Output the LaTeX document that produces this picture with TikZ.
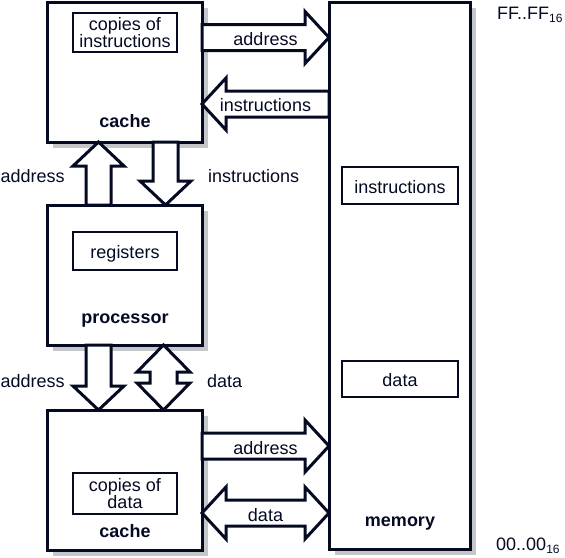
\documentclass[tikz,border=0pt]{standalone}
\usepackage{fontspec}
\setmainfont{Liberation Sans}
\usetikzlibrary{calc,shadows}
\definecolor{ink}{RGB}{5,10,35}
\definecolor{shade}{RGB}{196,198,202}
\begin{document}
\begin{tikzpicture}[x=1pt,y=-1pt,line join=miter,
  every node/.style={font=\fontsize{18}{17.5}\selectfont, text=ink},
  box/.style={draw=ink, line width=3pt, fill=white, inner sep=0pt, outer sep=0pt,
    minimum width=155pt, minimum height=140pt,
    drop shadow={shadow xshift=6pt, shadow yshift=-6pt, fill=shade, opacity=1}},
  inbox/.style={draw=ink, line width=2.5pt, fill=white, inner sep=0pt, outer sep=0pt,
    align=center, minimum width=104pt},
  oneline/.style={text height=15pt, text depth=0pt},
  bold/.style={anchor=base, inner sep=0pt, font=\fontsize{18}{17.5}\selectfont\bfseries},
  lbl/.style={anchor=base, inner sep=0pt},
  blk/.style={draw=ink, line width=3pt, fill=white},
  hsingle/.style={to path={let \p1=(\tikztostart), \p2=(\tikztotarget),
    \p3=($(\tikztotarget)!24pt!(\tikztostart)$) in
    (\x1,\y1+13pt) -- (\x3,\y1+13pt) -- (\x3,\y1+26pt) -- (\x2,\y2)
    -- (\x3,\y1-26pt) -- (\x3,\y1-13pt) -- (\x1,\y1-13pt) -- cycle}},
  hdouble/.style={to path={let \p1=(\tikztostart), \p2=(\tikztotarget),
    \p3=($(\tikztotarget)!24pt!(\tikztostart)$),
    \p4=($(\tikztostart)!24pt!(\tikztotarget)$) in
    (\x1,\y1) -- (\x4,\y1+26pt) -- (\x4,\y1+13pt) -- (\x3,\y1+13pt) -- (\x3,\y1+26pt)
    -- (\x2,\y2) -- (\x3,\y1-26pt) -- (\x3,\y1-13pt) -- (\x4,\y1-13pt) -- (\x4,\y1-26pt) -- cycle}},
  vsingle/.style={to path={let \p1=(\tikztostart), \p2=(\tikztotarget),
    \p3=($(\tikztotarget)!24pt!(\tikztostart)$) in
    (\x1-12.5pt,\y1) -- (\x1-12.5pt,\y3) -- (\x1-25.5pt,\y3) -- (\x2,\y2)
    -- (\x1+25.5pt,\y3) -- (\x1+12.5pt,\y3) -- (\x1+12.5pt,\y1) -- cycle}},
  vdouble/.style={to path={let \p1=(\tikztostart), \p2=(\tikztotarget),
    \p3=($(\tikztotarget)!27pt!(\tikztostart)$),
    \p4=($(\tikztostart)!27pt!(\tikztotarget)$) in
    (\x1,\y1) -- (\x1+26.5pt,\y4) -- (\x1+13.5pt,\y4) -- (\x1+13.5pt,\y3) -- (\x1+26.5pt,\y3)
    -- (\x2,\y2) -- (\x1-26.5pt,\y3) -- (\x1-13.5pt,\y3) -- (\x1-13.5pt,\y4) -- (\x1-26.5pt,\y4) -- cycle}}
]
\useasboundingbox (0,0) rectangle (565,557);

% main boxes
\node[box] (cacheI) at (124.5,72) {};
\node[box] (proc) at (124.5,275) {};
\node[box] (cacheD) at (124.5,480) {};
\node[box, minimum width=141pt, minimum height=547pt] (mem) at (399.5,275.5) {};

% inner boxes
\node[inbox, minimum height=39pt] (cpI) at (125,32.5) {copies of\\instructions};
\node[inbox, oneline, minimum height=38pt] (reg) at (125,251) {registers};
\node[inbox, minimum height=41pt] (cpD) at (125,493.5) {copies of\\data};
\node[inbox, oneline, minimum width=116pt, minimum height=37pt] (mI) at (400,185.5) {instructions};
\node[inbox, oneline, minimum width=116pt, minimum height=36pt] (mD) at (400,379) {data};

% bold titles
\node[bold] (tCacheI) at (125,127) {cache};
\node[bold] (tProc) at (125,323) {processor};
\node[bold] (tCacheD) at (125,537) {cache};
\node[bold] (tMem) at (400,526) {memory};

% horizontal block arrows
\coordinate (h1a) at ($(cacheI.north east)+(0,35.5)$);
\draw[blk] (h1a) to[hsingle] (mem.west |- h1a);
\coordinate (h2a) at ($(cacheI.north east)+(0,102)$);
\draw[blk] (mem.west |- h2a) to[hsingle] (h2a);
\coordinate (h3a) at ($(cacheD.north east)+(0,36)$);
\draw[blk] (h3a) to[hsingle] (mem.west |- h3a);
\coordinate (h4a) at ($(cacheD.north east)+(0,103)$);
\draw[blk] (h4a) to[hdouble] (mem.west |- h4a);

% vertical block arrows
\coordinate (v1a) at ($(proc.north west)+(51.5,0)$);
\draw[blk] (v1a) to[vsingle] (cacheI.south -| v1a);
\coordinate (v2a) at ($(cacheI.south west)+(118.5,0)$);
\draw[blk] (v2a) to[vsingle] (proc.north -| v2a);
\coordinate (v3a) at ($(proc.south west)+(51.5,0)$);
\draw[blk] (v3a) to[vsingle] (cacheD.north -| v3a);
\coordinate (v4a) at ($(proc.south west)+(116.5,0)$);
\draw[blk] (v4a) to[vdouble] (cacheD.north -| v4a);

% arrow labels
\node[lbl] (l1) at (265.5,45) {address};
\node[lbl] (l2) at (265.5,111) {instructions};
\node[lbl] (l3) at (265.5,454) {address};
\node[lbl] (l4) at (265.5,521) {data};
\node[lbl, anchor=base west] (l5) at (0.5,182) {address};
\node[lbl, anchor=base west] (l6) at (208,182) {instructions};
\node[lbl, anchor=base west] (l7) at (0.5,387) {address};
\node[lbl, anchor=base west] (l8) at (207,387) {data};

% address range labels
\node[lbl, anchor=base west] (ff) at (497,19) {FF..FF\raisebox{-0.35ex}{\fontsize{12}{12}\selectfont 16}};
\node[lbl, anchor=base west] (zz) at (496,550) {00..00\raisebox{-0.35ex}{\fontsize{12}{12}\selectfont 16}};
\end{tikzpicture}
\end{document}
